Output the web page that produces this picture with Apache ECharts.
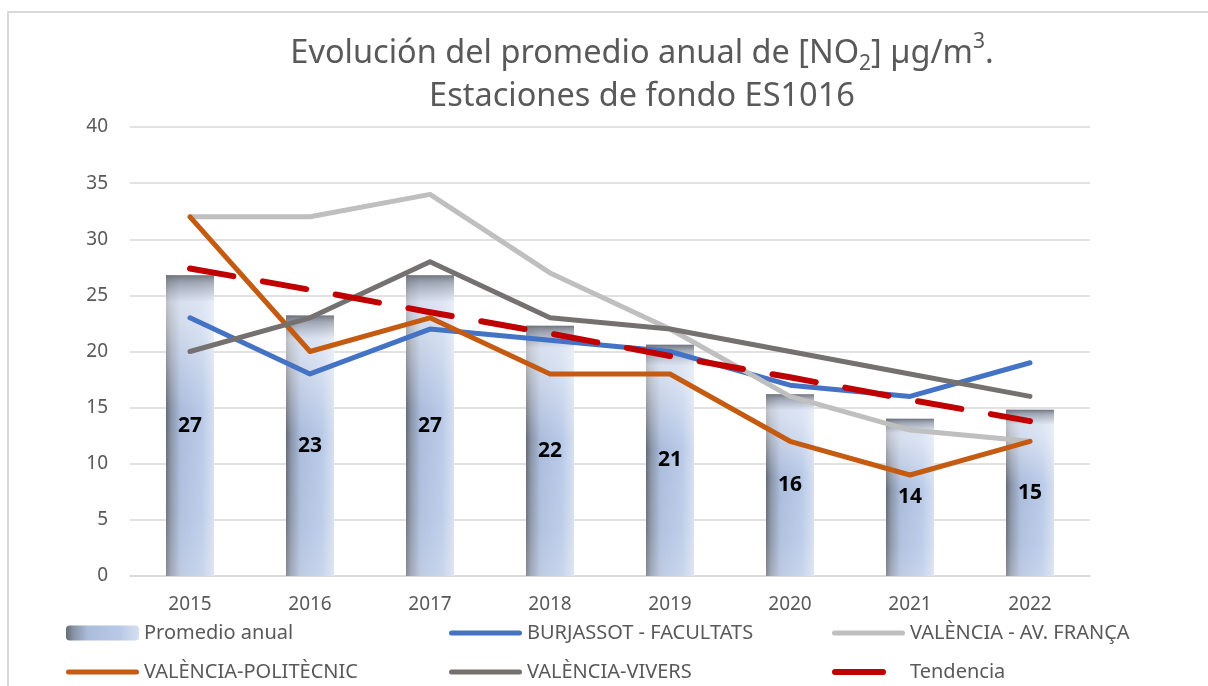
<!DOCTYPE html>
<html>
<head>
<meta charset="utf-8">
<script src="https://cdn.jsdelivr.net/npm/echarts@6/dist/echarts.min.js"></script>
<style>
	html, body { margin: 0; padding: 0; background: #fff; }
	#chart { width: 1208px; height: 686px; }
</style>
</head>
<body>
<div id="chart"></div>
<script>
// datos
var years = ['2015', '2016', '2017', '2018', '2019', '2020', '2021', '2022'];
var promedio = [26.8, 23.2, 26.8, 22.3, 20.6, 16.2, 14.0, 14.8];
var burjassot = [23, 18, 22, 21, 20, 17, 16, 19];
var avFranca = [32, 32, 34, 27, 22, 16, 13, 12];
var politecnic = [32, 20, 23, 18, 18, 12, 9, 12];
var vivers = [20, 23, 28, 23, 22, 20, 18, 16];
var tendencia = [27.4, 25.5, 23.5, 21.6, 19.6, 17.7, 15.7, 13.8];
var yTicks = [0, 5, 10, 15, 20, 25, 30, 35, 40];

var font = 'Noto Sans';
var grey = '#595959';

// iconos de leyenda (linea gruesa)
var lineIcon = 'path://M2.5,0 L70.5,0 A2.5,2.5 0 0 1 70.5,5 L2.5,5 A2.5,2.5 0 0 1 2.5,0 Z';
var dashIcon = 'path://M3,0 L51,0 A3,3 0 0 1 51,6 L3,6 A3,3 0 0 1 3,0 Z M73,3';

function lineSerie(name, data, color, width) {
	return {
		name: name,
		type: 'line',
		data: data,
		symbol: 'none',
		showSymbol: false,
		z: 5,
		lineStyle: { color: color, width: width, cap: 'round', join: 'round' },
		itemStyle: { color: color }
	};
}

function legendItem(name, left, top, icon) {
	var item = { name: name };
	if (icon) item.icon = icon;
	return {
		orient: 'horizontal', left: left, top: top, padding: 0,
		itemWidth: 73, itemHeight: 15, itemGap: 0,
		textStyle: { fontFamily: font, fontSize: 20, color: grey, lineHeight: 20 },
		data: [item]
	};
}

var chart = echarts.init(document.getElementById('chart'));

var trend = lineSerie('Tendencia', tendencia, '#C00000', 6);
trend.lineStyle.type = [44, 30];
trend.z = 6;

var option = {
	animation: false,
	backgroundColor: '#fff',
	//marco
	graphic: [{
		type: 'rect',
		shape: { x: 8, y: 12, width: 1400, height: 900 },
		style: { fill: 'none', stroke: '#d9d9d9', lineWidth: 2 },
		silent: true
	}],
	//titulo
	title: {
		text: 'Evolución del promedio anual de [NO{sub|2}] µg/m{sup|3}.\nEstaciones de fondo ES1016',
		left: 637,
		top: 27,
		textAlign: 'center',
		textStyle: {
			fontFamily: font,
			fontSize: 32.5,
			fontWeight: 'normal',
			color: grey,
			lineHeight: 43,
			rich: {
				sub: { fontFamily: font, fontSize: 21, color: grey, verticalAlign: 'bottom', padding: [15, 0, 0, 0], lineHeight: 43 },
				sup: { fontFamily: font, fontSize: 21, color: grey, verticalAlign: 'top', padding: [0, 0, 13, 0], lineHeight: 43 }
			}
		}
	},
	grid: {
		left: 130,
		right: 118,
		top: 127,
		bottom: 110,
		containLabel: false
	},
	//leyenda
	legend: [
		legendItem('Promedio anual', 66, 623),
		legendItem('BURJASSOT - FACULTATS', 449, 623, lineIcon),
		legendItem('VALÈNCIA - AV. FRANÇA', 832, 623, lineIcon),
		legendItem('VALÈNCIA-POLITÈCNIC', 66, 662, lineIcon),
		legendItem('VALÈNCIA-VIVERS', 449, 662, lineIcon),
		legendItem('Tendencia', 832, 662, dashIcon)
	],
	xAxis: {
		type: 'category',
		data: years,
		axisLine: { lineStyle: { color: '#d9d9d9', width: 1.5 } },
		axisTick: { show: false },
		axisLabel: { fontFamily: font, fontSize: 19, color: grey, margin: 19 }
	},
	yAxis: {
		type: 'value',
		min: yTicks[0],
		max: yTicks[yTicks.length - 1],
		interval: 5,
		axisLine: { show: false },
		axisTick: { show: false },
		axisLabel: { fontFamily: font, fontSize: 19, color: grey, margin: 22 },
		splitLine: { lineStyle: { color: '#d9d9d9', width: 1.5 } }
	},
	series: [
		{
			name: 'Promedio anual',
			type: 'bar',
			data: promedio,
			barWidth: 48,
			z: 2,
			itemStyle: {
				color: new echarts.graphic.LinearGradient(0, 0, 1, 0, [
					{ offset: 0, color: '#646a76' },
					{ offset: 0.1, color: '#8892a4' },
					{ offset: 0.3, color: '#abbcdc' },
					{ offset: 0.75, color: '#b9cae8' },
					{ offset: 1, color: '#d6dff0' }
				])
			}
		},
		{
			name: 'sombra',
			type: 'bar',
			data: promedio,
			barWidth: 48,
			barGap: '-100%',
			z: 3,
			silent: true,
			itemStyle: {
				color: new echarts.graphic.LinearGradient(0, 0, 0, 1, [
					{ offset: 0, color: 'rgba(110,112,118,0.95)' },
					{ offset: 0.025, color: 'rgba(150,154,162,0.7)' },
					{ offset: 0.09, color: 'rgba(245,247,252,0.6)' },
					{ offset: 0.17, color: 'rgba(255,255,255,0.45)' },
					{ offset: 0.45, color: 'rgba(255,255,255,0)' },
					{ offset: 0.8, color: 'rgba(255,255,255,0.08)' },
					{ offset: 1, color: 'rgba(255,255,255,0.22)' }
				])
			},
			label: {
				show: true,
				position: 'inside',
				fontFamily: font,
				fontSize: 21,
				fontWeight: 'bold',
				color: '#000',
				formatter: function (p) { return Math.round(p.value); }
			}
		},
		lineSerie('BURJASSOT - FACULTATS', burjassot, '#4472C4', 5),
		lineSerie('VALÈNCIA - AV. FRANÇA', avFranca, '#BFBFBF', 5),
		lineSerie('VALÈNCIA-POLITÈCNIC', politecnic, '#C55A11', 5),
		lineSerie('VALÈNCIA-VIVERS', vivers, '#767171', 5),
		trend
	]
};

chart.setOption(option);
</script>
</body>
</html>
